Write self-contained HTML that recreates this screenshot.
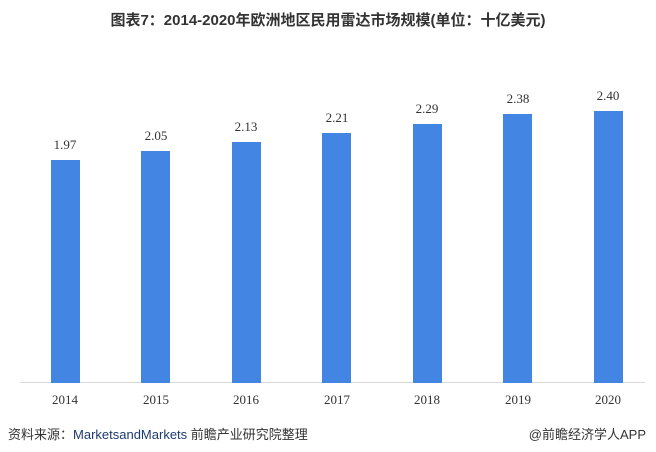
<!DOCTYPE html>
<html><head><meta charset="utf-8"><style>
body{margin:0;width:656px;height:452px;background:#fff;position:relative;overflow:hidden;font-family:"Liberation Sans","Noto Sans CJK SC",sans-serif}
.t{position:absolute;top:9px;left:0;width:656px;text-align:center;font-weight:bold;font-size:15px;color:#333}
.b{position:absolute;width:29px;background:#4285e2;bottom:69px}
.v,.x{position:absolute;width:60px;text-align:center;font-family:"Liberation Serif","Noto Serif CJK SC",serif;font-size:13px;color:#333}
.ax{position:absolute;left:20px;width:625px;top:382px;height:1px;background:#d9d9d9}
.f{position:absolute;top:424px;font-size:13px;color:#333}
</style></head><body>
<div class="t">图表7：2014-2020年欧洲地区民用雷达市场规模(单位：十亿美元)</div>
<div class="ax"></div>
<div class="b" style="left:51px;top:160px"></div><div class="v" style="left:35px;top:137px">1.97</div><div class="x" style="left:35px;top:392px">2014</div>
<div class="b" style="left:141px;top:151px"></div><div class="v" style="left:126px;top:128px">2.05</div><div class="x" style="left:126px;top:392px">2015</div>
<div class="b" style="left:232px;top:142px"></div><div class="v" style="left:216px;top:119px">2.13</div><div class="x" style="left:216px;top:392px">2016</div>
<div class="b" style="left:322px;top:133px"></div><div class="v" style="left:307px;top:110px">2.21</div><div class="x" style="left:307px;top:392px">2017</div>
<div class="b" style="left:413px;top:124px"></div><div class="v" style="left:397px;top:101px">2.29</div><div class="x" style="left:397px;top:392px">2018</div>
<div class="b" style="left:503px;top:114px"></div><div class="v" style="left:488px;top:91px">2.38</div><div class="x" style="left:488px;top:392px">2019</div>
<div class="b" style="left:594px;top:111px"></div><div class="v" style="left:578px;top:88px">2.40</div><div class="x" style="left:578px;top:392px">2020</div>
<div class="f" style="left:8px">资料来源：<span style="color:#1f3a6e">MarketsandMarkets</span> 前瞻产业研究院整理</div>
<div class="f" style="right:10px">@前瞻经济学人APP</div>
</body></html>
